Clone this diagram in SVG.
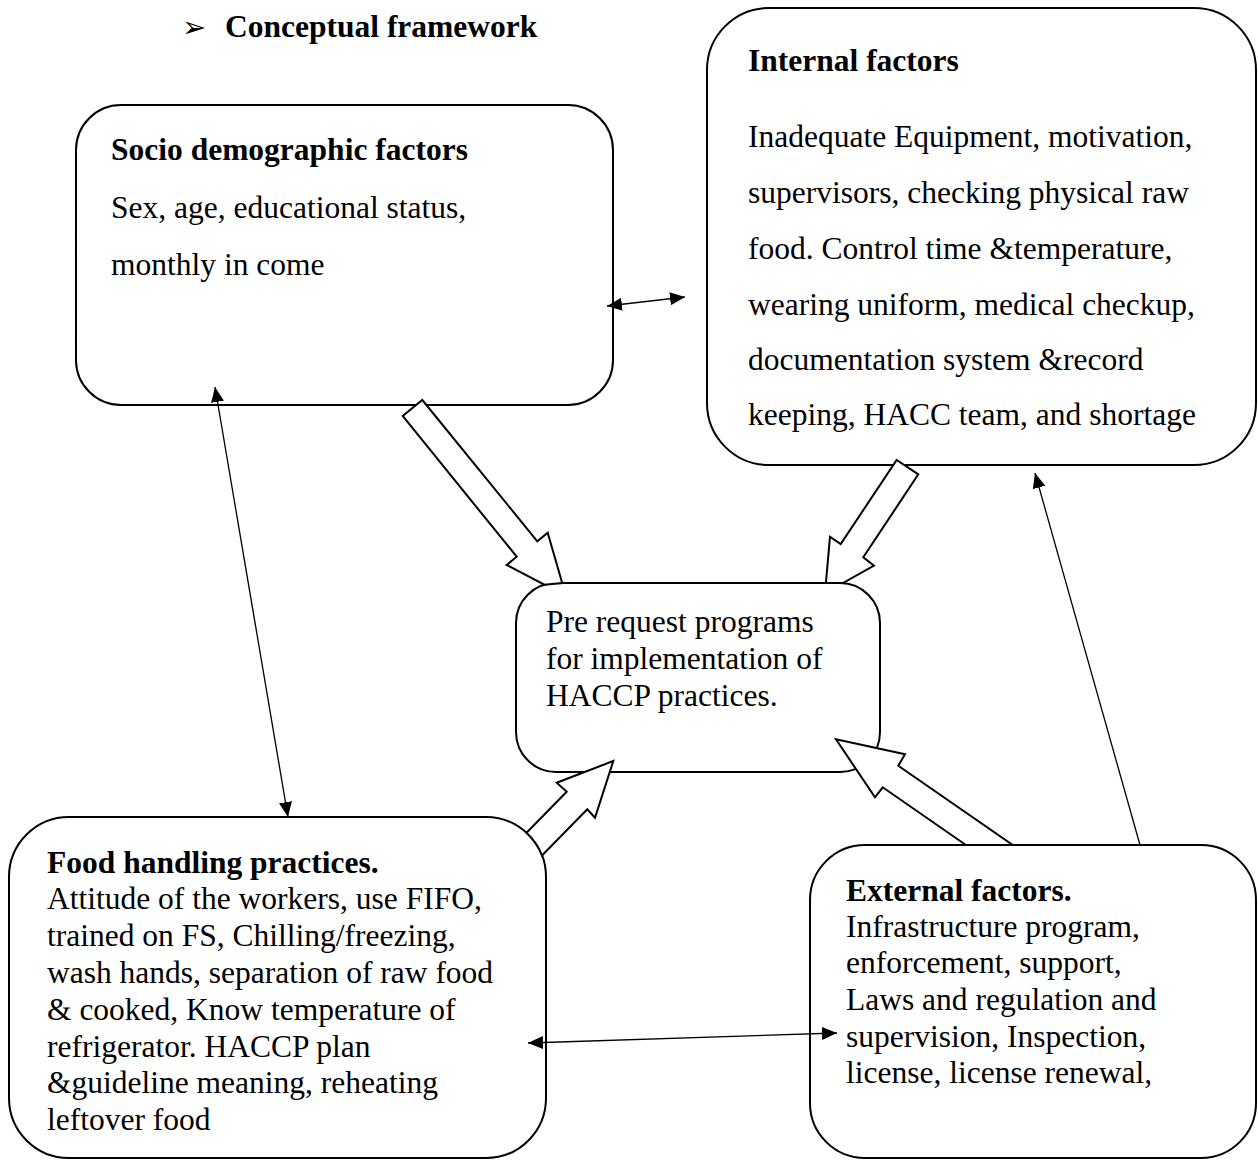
<svg xmlns="http://www.w3.org/2000/svg" width="1258" height="1160" viewBox="0 0 1258 1160">
<defs>
<style>
.box{fill:#fff;stroke:#000;stroke-width:2}
.t{font-family:"Liberation Serif","Times New Roman",serif;font-size:31.5px;fill:#000}
.b{font-weight:bold}
.blk{fill:#fff;stroke:#000;stroke-width:2;stroke-linejoin:miter}
.thin{fill:none;stroke:#000;stroke-width:1.3}
</style>
<marker id="ah" markerUnits="userSpaceOnUse" markerWidth="16" markerHeight="14" refX="15" refY="6.5" orient="auto-start-reverse" viewBox="0 0 16 13">
<path d="M0,0 L15,6.5 L0,13 z" fill="#000"/>
</marker>
</defs>
<rect width="1258" height="1160" fill="#fff"/>

<g id="title">
<text x="182" y="37" style="font-family:'DejaVu Sans',sans-serif;font-size:29px">➢</text>
<text class="t b" x="225" y="37">Conceptual framework</text>
</g>

<g id="socio">
<rect class="box" x="76" y="105" width="537" height="300" rx="45" ry="45"/>
<text class="t b" x="111" y="160">Socio demographic factors</text>
<text class="t" x="111" y="218">Sex, age, educational status,</text>
<text class="t" x="111" y="275">monthly in come</text>
</g>

<g id="internal">
<rect class="box" x="707" y="8" width="549" height="457" rx="62" ry="62"/>
<text class="t b" x="748" y="71">Internal factors</text>
<text class="t" x="748" y="147">Inadequate Equipment, motivation,</text>
<text class="t" x="748" y="203">supervisors, checking physical raw</text>
<text class="t" x="748" y="259">food. Control time &amp;temperature,</text>
<text class="t" x="748" y="315">wearing uniform, medical checkup,</text>
<text class="t" x="748" y="370">documentation system &amp;record</text>
<text class="t" x="748" y="425">keeping, HACC team, and shortage</text>
</g>

<g id="center">
<rect class="box" x="516" y="583" width="364" height="189" rx="40" ry="40"/>
<text class="t" x="546" y="632">Pre request programs</text>
<text class="t" x="546" y="669">for implementation of</text>
<text class="t" x="546" y="706">HACCP practices.</text>
</g>

<g id="food">
<rect class="box" x="9" y="817" width="537" height="341" rx="60" ry="60"/>
<text class="t b" x="47" y="873">Food handling practices.</text>
<text class="t" x="47" y="909">Attitude of the workers, use FIFO,</text>
<text class="t" x="47" y="946">trained on FS, Chilling/freezing,</text>
<text class="t" x="47" y="983">wash hands, separation of raw food</text>
<text class="t" x="47" y="1020">&amp; cooked, Know temperature of</text>
<text class="t" x="47" y="1057">refrigerator. HACCP plan</text>
<text class="t" x="47" y="1093">&amp;guideline meaning, reheating</text>
<text class="t" x="47" y="1130">leftover food</text>
</g>

<g id="external">
<rect class="box" x="810" y="845" width="446" height="313" rx="55" ry="55"/>
<text class="t b" x="846" y="901">External factors.</text>
<text class="t" x="846" y="937">Infrastructure program,</text>
<text class="t" x="846" y="973">enforcement, support,</text>
<text class="t" x="846" y="1010">Laws and regulation and</text>
<text class="t" x="846" y="1047">supervision, Inspection,</text>
<text class="t" x="846" y="1083">license, license renewal,</text>
</g>

<g id="connectors">
<path class="blk" d="M402.7,416 L422.3,400 L537.3,541.3 L547.7,532.7 L562.2,583 L544.4,584.7 L506.7,565 L516.7,556.7 Z"/>
<path class="blk" d="M896.7,460 L918.3,474.3 L863.3,557.3 L874,565.7 L842.9,583 L825.9,583 L830,536.7 L840.7,544 Z"/>
<path class="blk" d="M542,855.5 L587.3,809.3 L595,817.7 L613.3,761 L556.7,782.7 L566.7,791.7 L526.5,832.7 A60,60 0 0 1 542,855.5 Z"/>
<path class="blk" d="M965.9,845 L882.7,787.3 L875,797.3 L836,739.3 L905,754.3 L898.3,765.7 L1012.7,845 Z"/>
<line class="thin" x1="215" y1="387" x2="288" y2="817" marker-start="url(#ah)" marker-end="url(#ah)"/>
<line class="thin" x1="607" y1="306" x2="685" y2="297" marker-start="url(#ah)" marker-end="url(#ah)"/>
<line class="thin" x1="528" y1="1043" x2="837" y2="1033" marker-start="url(#ah)" marker-end="url(#ah)"/>
<line class="thin" x1="1140" y1="845" x2="1035" y2="473" marker-end="url(#ah)"/>
</g>
</svg>
